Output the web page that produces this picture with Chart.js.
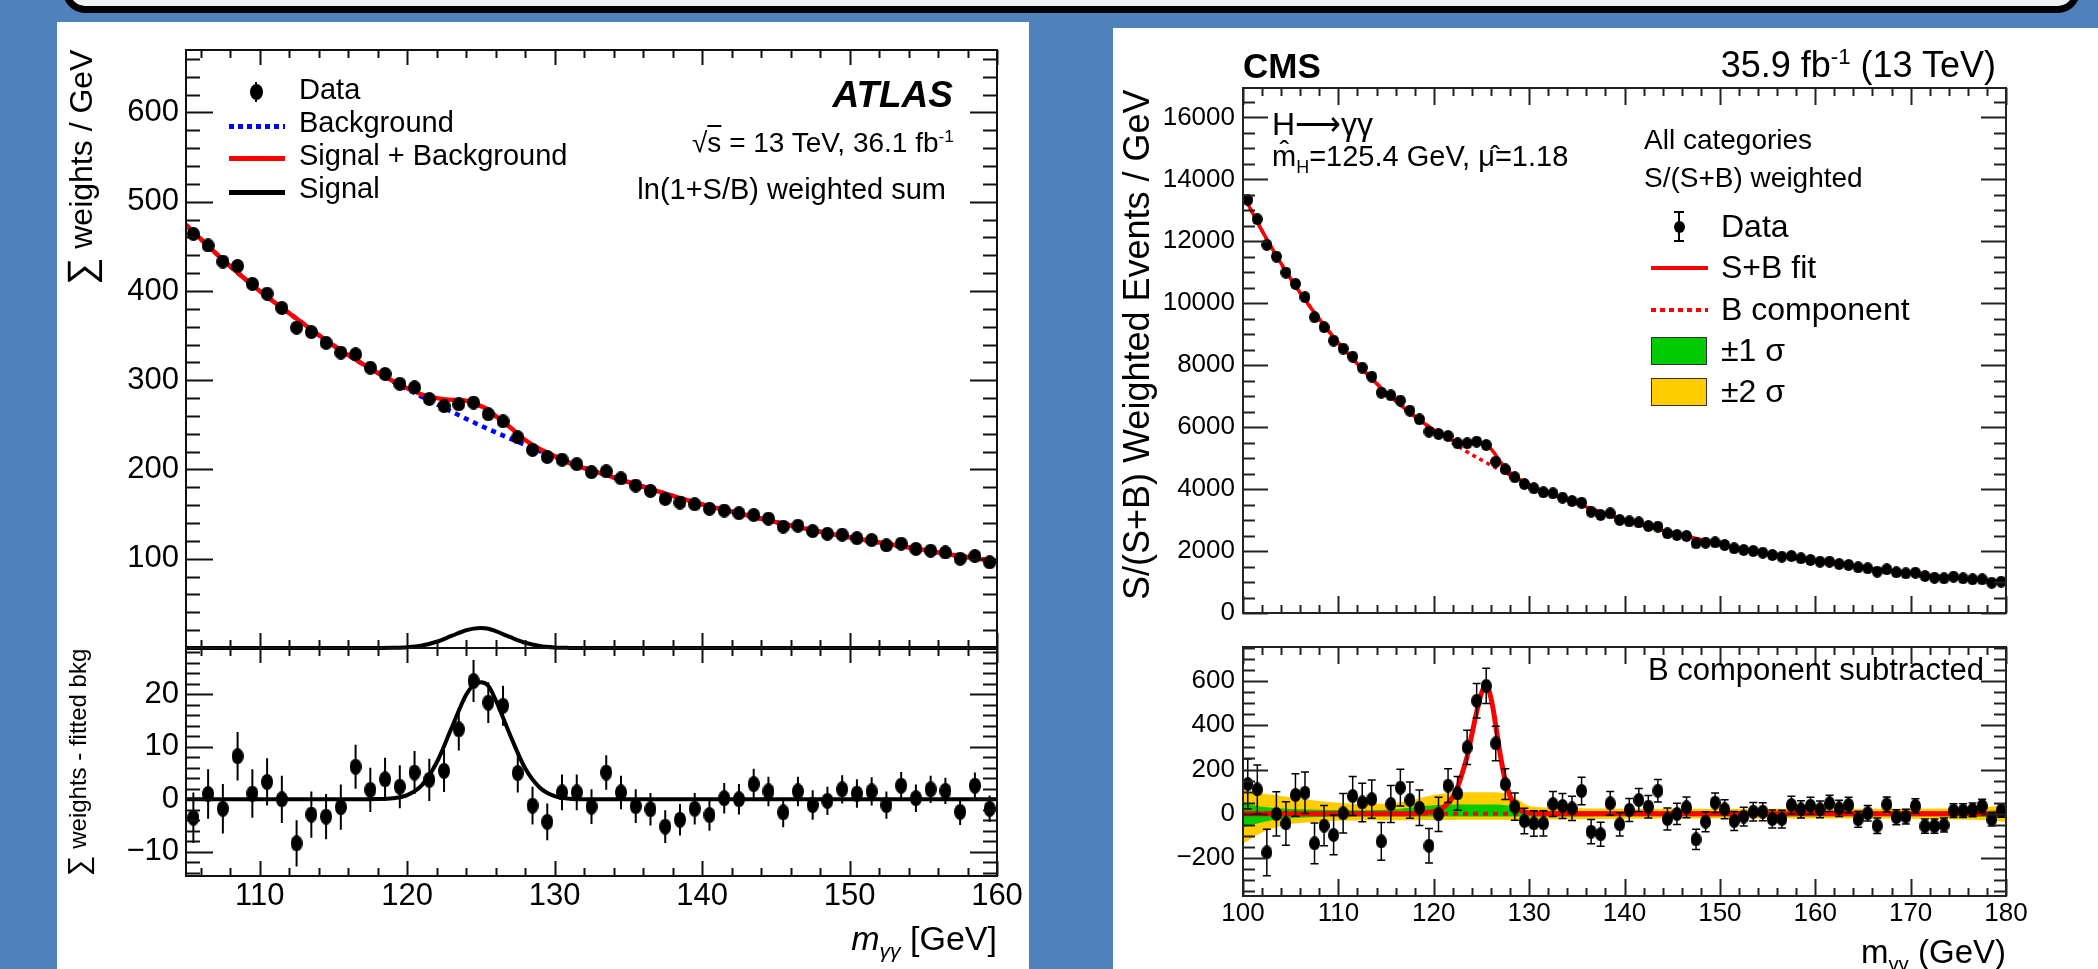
<!DOCTYPE html>
<html>
<head>
<meta charset="utf-8">
<script src="https://cdn.jsdelivr.net/npm/chart.js@4.4.1/dist/chart.umd.min.js"></script>
<style>
html, body { margin: 0; padding: 0; }
body { width: 2098px; height: 969px; background: #4f81bd; position: relative; overflow: hidden;
       font-family: "Liberation Sans", Arial, Helvetica, sans-serif; color: #000; }
.topbox { position: absolute; left: 63px; top: -60px; width: 2003px; height: 59px; background: #f0f0f0;
          border: 7px solid #000; border-radius: 22px; }
.sheet { position: absolute; background: #fff; }
canvas { position: absolute; }
.t { position: absolute; white-space: nowrap; line-height: 1; }
.r { transform: translateX(-100%); }
.vt { position: absolute; writing-mode: vertical-rl; transform: rotate(180deg); text-align: end;
      white-space: nowrap; line-height: 1; }
.t sub, .t sup, .vt sub { font-size: 62%; line-height: 0; }
.sw { position: absolute; }
</style>
</head>
<body>
<div class="topbox"></div>
<div class="sheet" style="left:57px;top:22px;width:972px;height:947px"></div>
<div class="sheet" style="left:1113px;top:28px;width:985px;height:941px"></div>
<canvas id="atlasMain"></canvas>
<canvas id="atlasRatio"></canvas>
<canvas id="cmsMain"></canvas>
<canvas id="cmsRatio"></canvas>
<script>
// ---------------- ATLAS (left) ----------------
const atlasMass = [105.5,106.5,107.5,108.5,109.5,110.5,111.5,112.5,113.5,114.5,
  115.5,116.5,117.5,118.5,119.5,120.5,121.5,122.5,123.5,124.5,
  125.5,126.5,127.5,128.5,129.5,130.5,131.5,132.5,133.5,134.5,
  135.5,136.5,137.5,138.5,139.5,140.5,141.5,142.5,143.5,144.5,
  145.5,146.5,147.5,148.5,149.5,150.5,151.5,152.5,153.5,154.5,
  155.5,156.5,157.5,158.5,159.5];
const atlasData = [464,451,433,428,408,397,381,359,354,342,
  331,329,314,307,296,292,279,271,273,275,
  262,254,236,222,214,211,206,197,198,190,
  182,176,167,163,161,156,154,151,149,145,
  136,137,131,128,127,123,121,115,117,111,
  109,107,100,103,96];
// data minus fitted background (lower pad)
const atlasSub = [-3.5,1.0,-1.8,8.2,1.1,3.3,0.0,-8.4,-2.9,-3.3,
  -1.5,6.2,1.8,3.8,2.4,5.1,3.7,5.4,13.3,22.5,
  18.4,17.8,5.0,-1.2,-4.3,1.3,1.3,-1.4,5.1,1.3,
  -1.3,-1.9,-5.2,-3.9,-1.8,-3.0,0.2,0.0,2.9,1.5,
  -2.5,1.5,-1.1,-0.3,1.9,1.1,1.5,-1.1,2.6,0.2,
  1.9,1.6,-2.4,2.6,-1.8];
const atlasErr = [4.8,4.7,4.7,4.6,4.6,4.5,4.5,4.4,4.4,4.3,
  4.3,4.2,4.2,4.1,4.1,4.1,4.0,4.0,4.0,4.0,
  3.9,3.8,3.7,3.6,3.5,3.4,3.4,3.3,3.3,3.2,
  3.2,3.1,3.1,3.0,3.0,3.0,2.9,2.9,2.9,2.8,
  2.8,2.8,2.8,2.7,2.7,2.7,2.7,2.6,2.6,2.6,
  2.6,2.5,2.5,2.5,2.5];
const atlasBkgX = [105,107.5,110,112.5,115,117.5,120,122.5,125,127.5,130,132.5,135,137.5,140,142.5,145,147.5,150,152.5,155,157.5,160];
const atlasBkg  = [474,435,400,369,339,313,290,269,249,231,214,199,186,173,161,151,141,132,124,117,110,103,97];
const atlasSBX = [105,107.5,110,112.5,115,117.5,119,120,121,122,123,124,124.5,125,125.5,126,127,128,129,130,131,132.5,135,137.5,140,142.5,145,147.5,150,152.5,155,157.5,160];
const atlasSB  = [474,435,400,369,339,313,299.5,291,284,280,278,277,274,271,267,260,247,233,223,215,207,199,186,173,161,151,141,132,124,117,110,103,97];
const atlasSigX = [105,117,118,119,120,121,122,123,124,124.5,125,125.5,126,127,128,129,130,131,132,160];
const atlasSig  = [0,0,0.05,0.2,0.8,2.7,7,13.5,19.9,21.7,22.3,21.6,18.9,12.1,5.9,2.2,0.6,0.1,0,0];

// ---------------- CMS (right) ----------------
const cmsMass = [100.5,101.5,102.5,103.5,104.5,105.5,106.5,107.5,108.5,109.5,
  110.5,111.5,112.5,113.5,114.5,115.5,116.5,117.5,118.5,119.5,
  120.5,121.5,122.5,123.5,124.5,125.5,126.5,127.5,128.5,129.5,
  130.5,131.5,132.5,133.5,134.5,135.5,136.5,137.5,138.5,139.5,
  140.5,141.5,142.5,143.5,144.5,145.5,146.5,147.5,148.5,149.5,
  150.5,151.5,152.5,153.5,154.5,155.5,156.5,157.5,158.5,159.5,
  160.5,161.5,162.5,163.5,164.5,165.5,166.5,167.5,168.5,169.5,
  170.5,171.5,172.5,173.5,174.5,175.5,176.5,177.5,178.5,179.5];
const cmsData = [13340,12716,11886,11509,10992,10627,10197,9551,9228,8795,
  8537,8278,7923,7632,7116,7030,6857,6534,6255,5856,
  5782,5717,5481,5481,5533,5426,4887,4641,4383,4167,
  4027,3898,3866,3724,3618,3563,3272,3165,3219,3004,
  2960,2925,2810,2788,2574,2519,2487,2251,2271,2282,
  2196,2089,2035,2003,1949,1873,1819,1841,1766,1712,
  1657,1657,1583,1550,1476,1444,1334,1412,1315,1282,
  1302,1195,1140,1121,1173,1121,1089,1089,979,1011];
// B component subtracted (lower pad)
const cmsSub = [134,110,-175,-1,-44,85,95,-134,-54,-96,
  2,80,51,66,-125,44,118,62,27,-145,
  -3,127,92,300,511,578,318,134,32,-33,
  -44,-44,44,35,24,103,-81,-93,47,-48,
  17,62,32,104,-24,-1,29,-116,-36,50,
  20,-33,-13,9,9,-24,-24,39,20,36,
  20,47,24,39,-25,2,-54,42,-16,-13,
  35,-56,-56,-51,14,14,17,35,-25,14];
const cmsErr = [113,110,105,100,98,96,94,92,91,90,
  89,88,87,86,85,84,83,82,80,78,
  77,76,76,77,78,80,78,70,62,58,
  58,57,56,56,55,62,55,54,54,53,
  52,52,51,51,50,48,47,46,45,44,
  43,43,42,42,41,41,40,40,39,38,
  38,37,37,36,36,35,35,34,34,33,
  33,32,32,32,31,31,31,30,30,30];
const cmsBkgX = [100,102.5,105,107.5,110,112.5,115,117.5,120,122.5,125,127.5,130,132.5,135,137.5,140,142.5,145,147.5,150,152.5,155,157.5,160,162.5,165,167.5,170,172.5,175,177.5,180];
const cmsBkg  = [13500,12060,10790,9690,8720,7880,7120,6470,5900,5390,4940,4530,4140,3820,3530,3260,3000,2790,2590,2410,2220,2050,1910,1790,1660,1560,1465,1380,1290,1200,1130,1060,1000];
const cmsSBX = [100,102.5,105,107.5,110,112.5,115,117.5,120,121,122,123,124,125,125.5,126,126.5,127,127.5,128,129,130,132.5,135,137.5,140,142.5,145,147.5,150,152.5,155,157.5,160,162.5,165,167.5,170,172.5,175,177.5,180];
const cmsSB  = [13500,12060,10790,9690,8720,7880,7120,6470,5910,5724,5567,5485,5480,5485,5440,5300,5100,4870,4680,4530,4312,4144,3820,3530,3260,3000,2790,2590,2410,2220,2050,1910,1790,1660,1560,1465,1380,1290,1200,1130,1060,1000];
const cmsSigX = [100,118,119,120,121,122,122.5,123,123.5,124,124.5,125,125.4,125.8,126.2,126.6,127,127.5,128,128.5,129,130,131,180];
const cmsSig  = [0,0,4,10,28,75,120,185,260,360,460,545,575,555,480,370,260,150,80,38,16,4,0,0];
const cmsZeroX = [100,180];
const cmsZero  = [0,0];
const cmsBandX = [100,102,104,106,108,110,113,116,118,120,122,124,126,128,129,130,132,135,140,150,160,170,175,178,180];
const cms2Up = [105,92,80,68,58,50,44,48,65,85,95,97,97,85,60,35,28,25,23,22,22,23,25,30,40];
const cms2Dn = [-135,-85,-55,-42,-35,-32,-30,-29,-29,-28,-28,-27,-27,-28,-28,-27,-26,-25,-23,-22,-22,-23,-26,-30,-37];
const cms1Up = [45,32,24,20,18,17,16,20,30,38,42,42,42,35,22,14,12,12,11,11,11,11,12,14,18];
const cms1Dn = [-62,-38,-24,-18,-15,-14,-13,-13,-13,-13,-13,-13,-13,-13,-13,-13,-12,-12,-11,-11,-11,-11,-12,-14,-17];

const FONT = '"Liberation Sans", Arial, Helvetica, sans-serif';
const P = 40, YW = 120;

function pts(xs, ys) { return xs.map((x, i) => ({x: x, y: ys[i]})); }
function fmt(v) { return v < 0 ? '\u2212' + (-v) : String(v); }

function marker(w, h) {
  const c = document.createElement('canvas');
  c.width = w; c.height = h;
  const g = c.getContext('2d');
  g.fillStyle = '#000';
  g.beginPath(); g.ellipse(w / 2, h / 2, w / 2, h / 2, 0, 0, Math.PI * 2); g.fill();
  return c;
}

// labelled ticks every `step` inside [min, max]
function stepTicks(step) {
  return s => {
    const t = [];
    for (let v = Math.ceil(s.min / step - 1e-9) * step; v <= s.max + 1e-9; v += step) {
      t.push({value: Math.round(v * 1000) / 1000});
    }
    s.ticks = t;
  };
}

// ROOT style frame with inward ticks on all four sides
const rootFrame = {
  id: 'rootFrame',
  afterDraw(chart, args, o) {
    if (!o || !o.xMinor) return;
    const ctx = chart.ctx, a = chart.chartArea, x = chart.scales.x, y = chart.scales.y;
    const marks = (s, step) => {
      const major = s.ticks.map(t => t.value);
      const out = major.map(v => [v, true]);
      for (let v = Math.ceil(s.min / step - 1e-9) * step; v <= s.max + 1e-9; v += step) {
        if (!major.some(m => Math.abs(m - v) < step / 100)) out.push([v, false]);
      }
      return out;
    };
    ctx.save();
    ctx.strokeStyle = o.color;
    ctx.lineWidth = o.tickWidth;
    ctx.beginPath();
    marks(x, o.xMinor).forEach(([v, maj]) => {
      const px = Math.round(x.getPixelForValue(v)) + 0.5, len = maj ? o.xMajLen : o.xMinLen;
      ctx.moveTo(px, a.bottom); ctx.lineTo(px, a.bottom - len);
      ctx.moveTo(px, a.top); ctx.lineTo(px, a.top + len);
    });
    marks(y, o.yMinor).forEach(([v, maj]) => {
      const py = Math.round(y.getPixelForValue(v)) + 0.5, len = maj ? o.yMajLen : o.yMinLen;
      ctx.moveTo(a.left, py); ctx.lineTo(a.left + len, py);
      ctx.moveTo(a.right, py); ctx.lineTo(a.right - len, py);
    });
    ctx.stroke();
    ctx.lineWidth = o.width;
    ctx.strokeRect(a.left, a.top, a.right - a.left, a.bottom - a.top);
    ctx.restore();
  }
};

// vertical error bars, drawn just before the points of a dataset
const errBars = {
  id: 'errBars',
  beforeDatasetDraw(chart, args) {
    const ds = chart.data.datasets[args.index];
    if (!ds.errors) return;
    const ctx = chart.ctx, y = chart.scales.y, a = chart.chartArea;
    ctx.save();
    ctx.beginPath(); ctx.rect(a.left, a.top, a.right - a.left, a.bottom - a.top); ctx.clip();
    ctx.strokeStyle = '#000';
    ctx.lineWidth = ds.errWidth || 2;
    ctx.beginPath();
    args.meta.data.forEach((pt, i) => {
      const v = ds.data[i].y, e = ds.errors[i];
      const y1 = y.getPixelForValue(v + e), y2 = y.getPixelForValue(v - e);
      ctx.moveTo(pt.x, y1); ctx.lineTo(pt.x, y2);
      if (ds.errCap) {
        ctx.moveTo(pt.x - ds.errCap, y1); ctx.lineTo(pt.x + ds.errCap, y1);
        ctx.moveTo(pt.x - ds.errCap, y2); ctx.lineTo(pt.x + ds.errCap, y2);
      }
    });
    ctx.stroke();
    ctx.restore();
  }
};
Chart.register(rootFrame, errBars);

function makeChart(id, area, xh, o) {
  const c = document.getElementById(id);
  c.width = YW + (area.r - area.l) + 2 * P;
  c.height = (area.b - area.t) + xh + 2 * P;
  c.style.left = (area.l - YW - P) + 'px';
  c.style.top = (area.t - P) + 'px';
  return new Chart(c, {
    type: 'line',
    data: {datasets: o.datasets},
    options: {
      responsive: false, animation: false, devicePixelRatio: 1, events: [],
      layout: {padding: P},
      plugins: {legend: {display: false}, tooltip: {enabled: false}, rootFrame: o.frame},
      scales: {
        x: {type: 'linear', min: o.x[0], max: o.x[1], display: xh > 0,
            grid: {display: false, drawTicks: false}, border: {display: false},
            ticks: {autoSkip: false, maxRotation: 0, padding: o.xPad,
                    color: '#000', font: {family: FONT, size: o.fs}, callback: fmt},
            afterBuildTicks: stepTicks(10),
            afterFit: s => { s.height = xh; }},
        y: {type: 'linear', min: o.y[0], max: o.y[1],
            grid: {display: false, drawTicks: false}, border: {display: false},
            ticks: {padding: o.yPad, color: '#000', font: {family: FONT, size: o.fs}, callback: o.yFmt || fmt},
            afterBuildTicks: stepTicks(o.y[2]),
            afterFit: s => { s.width = YW; }}
      }
    }
  });
}

const curve = (xs, ys, color, w, extra) => Object.assign({
  data: pts(xs, ys), borderColor: color, borderWidth: w, pointRadius: 0,
  cubicInterpolationMode: 'monotone', fill: false
}, extra || {});

const atlasFrame = {color: '#111', width: 2, tickWidth: 2, xMinor: 2, yMinor: 20, xMajLen: 15, xMinLen: 8, yMajLen: 27, yMinLen: 14};

makeChart('atlasMain', {l: 186, r: 997, t: 50, b: 648}, 0, {
  x: [105, 160], y: [0, 670, 100], fs: 31, xPad: 2, yPad: 7,
  yFmt: v => v === 0 ? '' : fmt(v),
  frame: atlasFrame,
  datasets: [
    {label: 'Data', data: pts(atlasMass, atlasData), showLine: false, pointStyle: marker(13, 14), pointRadius: 6,
     errors: atlasErr, errWidth: 2, order: 0},
    curve(atlasSBX, atlasSB, '#ff0000', 4.5, {label: 'Signal + Background', order: 1}),
    curve(atlasBkgX, atlasBkg, '#0000ff', 4.5, {label: 'Background', borderDash: [5, 5], order: 2}),
    curve(atlasSigX, atlasSig, '#000000', 4, {label: 'Signal', clip: false, order: 3})
  ]
});

makeChart('atlasRatio', {l: 186, r: 997, t: 648, b: 876}, 56, {
  x: [105, 160], y: [-14.6, 28.8, 10], fs: 31, xPad: 2, yPad: 7,
  frame: Object.assign({}, atlasFrame, {yMinor: 2}),
  datasets: [
    {label: 'Data', data: pts(atlasMass, atlasSub), showLine: false, pointStyle: marker(12, 16), pointRadius: 6,
     errors: atlasErr, errWidth: 2, order: 0},
    curve(atlasSigX, atlasSig, '#000000', 4, {label: 'Signal', order: 1})
  ]
});

const cmsFrame = {color: '#222', width: 2, tickWidth: 2, xMinor: 2, yMinor: 500, xMajLen: 17, xMinLen: 8, yMajLen: 25, yMinLen: 12};

makeChart('cmsMain', {l: 1243, r: 2006, t: 88, b: 613}, 0, {
  x: [100, 180], y: [0, 16950, 2000], fs: 26, xPad: 2, yPad: 8,
  frame: cmsFrame,
  datasets: [
    {label: 'Data', data: pts(cmsMass, cmsData), showLine: false, pointStyle: marker(11, 12), pointRadius: 5,
     errors: cmsErr, errWidth: 1.5, errCap: 3, order: 0},
    curve(cmsSBX, cmsSB, '#ff0000', 3.5, {label: 'S+B fit', order: 1}),
    curve(cmsBkgX, cmsBkg, '#ff0000', 3.5, {label: 'B component', borderDash: [4, 4], order: 2})
  ]
});

makeChart('cmsRatio', {l: 1243, r: 2006, t: 647, b: 896}, 56, {
  x: [100, 180], y: [-372, 754, 200], fs: 26, xPad: 2, yPad: 8,
  frame: Object.assign({}, cmsFrame, {yMinor: 50}),
  datasets: [
    {label: 'Data', data: pts(cmsMass, cmsSub), showLine: false, pointStyle: marker(11, 14), pointRadius: 5,
     errors: cmsErr, errWidth: 1.5, errCap: 4, order: 0},
    curve(cmsSigX, cmsSig, '#ff0000', 5, {label: 'S+B fit', order: 1}),
    curve(cmsZeroX, cmsZero, '#ff0000', 4, {label: 'B component', borderDash: [5, 5], order: 2}),
    curve(cmsBandX, cms1Up, 'rgba(0,0,0,0)', 0, {label: '\u00b11 \u03c3', fill: '+1', backgroundColor: '#00cc00', order: 3}),
    curve(cmsBandX, cms1Dn, 'rgba(0,0,0,0)', 0, {order: 4}),
    curve(cmsBandX, cms2Up, 'rgba(0,0,0,0)', 0, {label: '\u00b12 \u03c3', fill: '+1', backgroundColor: '#ffcc00', order: 5}),
    curve(cmsBandX, cms2Dn, 'rgba(0,0,0,0)', 0, {order: 6})
  ]
});

// ---------------- text and legend overlays ----------------
function txt(html, x, base, size, opt) {
  opt = opt || {};
  const d = document.createElement('div');
  d.className = 't' + (opt.right ? ' r' : '');
  d.innerHTML = html;
  d.style.left = x + 'px';
  d.style.top = (base - 0.85 * size) + 'px';
  d.style.fontSize = size + 'px';
  if (opt.css) d.style.cssText += opt.css;
  document.body.appendChild(d);
}
function vtxt(html, cx, top, len, size) {
  const d = document.createElement('div');
  d.className = 'vt';
  d.innerHTML = html;
  d.style.fontSize = size + 'px';
  d.style.width = size + 'px';
  d.style.left = (cx - size / 2) + 'px';
  d.style.top = top + 'px';
  d.style.height = len + 'px';
  document.body.appendChild(d);
}
function sw(x, y, w, h, css) {
  const d = document.createElement('div');
  d.className = 'sw';
  d.style.cssText += 'left:' + x + 'px;top:' + y + 'px;width:' + w + 'px;height:' + h + 'px;' + css;
  document.body.appendChild(d);
}

// ATLAS legend
sw(255, 82, 2, 20, 'background:#000');
sw(249.5, 84, 13, 16, 'background:#000;border-radius:50%');
sw(229, 123.5, 56, 5, 'background:repeating-linear-gradient(90deg,#0000ff 0 5px,transparent 5px 9px)');
sw(229, 156, 56, 4.5, 'background:#ff0000');
sw(229, 190, 56, 4.5, 'background:#000');
txt('Data', 299, 100, 29);
txt('Background', 299, 133, 29);
txt('Signal + Background', 299, 166, 29);
txt('Signal', 299, 199, 29);
txt('ATLAS', 953, 107, 37, {right: true, css: 'font-weight:bold;font-style:italic'});
txt('\u221a<span style="text-decoration:overline">s</span> = 13 TeV, 36.1 fb<sup>-1</sup>', 954, 153, 28, {right: true});
txt('ln(1+S/B) weighted sum', 946, 200, 29, {right: true});
txt('<i>m</i><sub><i>\u03b3\u03b3</i></sub> [GeV]', 997, 950, 34, {right: true});
vtxt('<span style="font-size:120%">\u2211</span> weights / GeV', 78, 50, 560, 32);
vtxt('<span style="font-size:120%">\u2211</span> weights - fitted bkg', 76, 650, 226, 24);

// CMS
txt('CMS', 1243, 78, 35, {css: 'font-weight:bold'});
txt('35.9 fb<sup>-1</sup> (13 TeV)', 1996, 78, 36, {right: true});
txt('H\u27f6\u03b3\u03b3', 1272, 135, 32);
txt('m\u0302<sub>H</sub>=125.4 GeV, \u03bc\u0302=1.18', 1272, 167, 29);
txt('All categories', 1644, 150, 28);
txt('S/(S+B) weighted', 1644, 188, 28);
sw(1678, 212, 2, 30, 'background:#000');
sw(1674, 211, 10, 2, 'background:#000');
sw(1674, 240, 10, 2, 'background:#000');
sw(1673.5, 220.5, 11, 12, 'background:#000;border-radius:50%');
sw(1651, 266, 57, 4, 'background:#ff0000');
sw(1651, 308, 57, 4, 'background:repeating-linear-gradient(90deg,#ff0000 0 5px,transparent 5px 9px)');
sw(1651, 337, 54, 26, 'background:#00cc00;border:1.5px solid #333');
sw(1651, 378, 54, 26, 'background:#ffcc00;border:1.5px solid #333');
txt('Data', 1721, 237, 32);
txt('S+B fit', 1721, 278, 32);
txt('B component', 1721, 320, 32);
txt('\u00b11 \u03c3', 1721, 361, 32);
txt('\u00b12 \u03c3', 1721, 402, 32);
txt('B component subtracted', 1984, 680, 31, {right: true});
txt('m<sub>\u03b3\u03b3</sub> (GeV)', 2006, 963, 33, {right: true});
vtxt('S/(S+B) Weighted Events / GeV', 1137, 89, 525, 36);
</script>
</body>
</html>
